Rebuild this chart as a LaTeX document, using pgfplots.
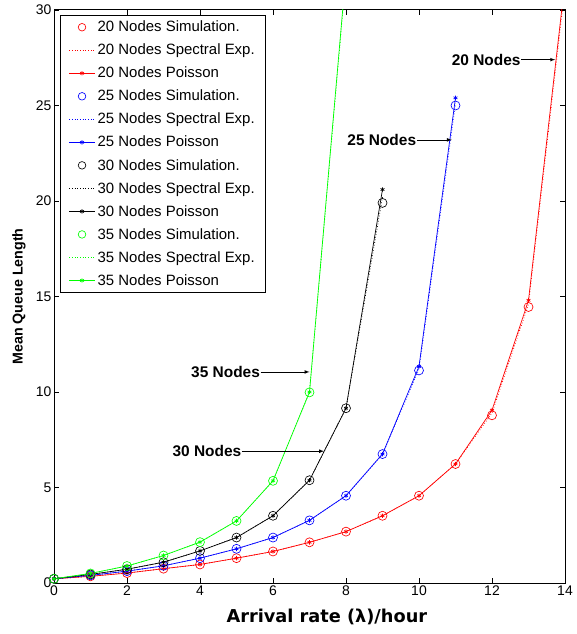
\documentclass[border=0pt]{standalone}
\usepackage{pgfplots}
\pgfplotsset{compat=1.18}
\usepackage{fontspec}
\setmainfont{Liberation Sans}
\newfontfamily\dejavu{DejaVu Sans}
\begin{document}
\begin{tikzpicture}[x=1bp,y=1bp]
\begin{axis}[
  name=ax,
  scale only axis,
  width=511bp, height=573bp,
  xmin=0, xmax=14, ymin=0, ymax=30,
  xtick={0,2,...,14}, ytick={0,5,...,30},
  tick align=inside,
  major tick length=5bp,
  axis line style={line width=1pt},
  every tick/.style={black, line width=0.8pt},
  tick label style={font=\fontsize{14}{16}\selectfont},
  xticklabel style={yshift=1bp},
  yticklabel style={xshift=1bp},
  /pgf/number format/assume math mode=true,
  xlabel={\dejavu\bfseries Arrival rate (λ)/hour},
  xlabel style={font=\fontsize{17.8}{20}\selectfont, at={(axis description cs:0.534,-0.0593)}, anchor=center},
  ylabel={\bfseries Mean Queue Length},
  ylabel style={font=\fontsize{14.3}{16}\selectfont, at={(axis description cs:-0.0685,0.5)}, anchor=center},
  legend style={at={(0.0117,0.991)}, anchor=north west, font=\fontsize{15}{17}\selectfont,
    draw=black, line width=0.8pt, inner xsep=8.5bp, inner ysep=3bp, row sep=5.7bp, legend cell align=left,
    nodes={inner sep=2.5bp}},
  every axis plot/.append style={line width=0.7pt},
  simstyle/.style={only marks, mark=o, mark size=4.5bp, mark options={line width=0.65pt},
    legend image code/.code={\draw[mark size=3.8bp] plot coordinates {(0.45cm,0cm)};}},
  specstyle/.style={dotted, line width=0.8pt, no marks,
    legend image code/.code={\draw[##1] plot coordinates {(0cm,0cm) (0.45cm,0cm) (0.9cm,0cm)};}},
  poisstyle/.style={mark=asterisk, mark size=2.2bp,
    legend image code/.code={\draw[mark repeat=2,mark phase=2,##1] plot coordinates {(0cm,0cm) (0.45cm,0cm) (0.9cm,0cm)};}},
]
% 20 nodes
\addplot[red, simstyle] coordinates {
(0,0.22)(1,0.35)(2,0.52)(3,0.75)(4,0.97)(5,1.30)(6,1.65)(7,2.13)(8,2.69)(9,3.52)(10,4.57)(11,6.23)(12,8.78)(13,14.45)};
\addlegendentry{20 Nodes Simulation.}
\addplot[red, specstyle] coordinates {
(0,0.22)(1,0.35)(2,0.52)(3,0.75)(4,0.97)(5,1.30)(6,1.65)(7,2.13)(8,2.69)(9,3.52)(10,4.57)(11,6.23)(12,8.9)(13,14.6)(14,31.2)};
\addlegendentry{20 Nodes Spectral Exp.}
\addplot[red, poisstyle] coordinates {
(0,0.22)(1,0.35)(2,0.52)(3,0.75)(4,0.97)(5,1.30)(6,1.65)(7,2.13)(8,2.69)(9,3.52)(10,4.57)(11,6.23)(12,9.05)(13,14.8)(14,31.5)};
\addlegendentry{20 Nodes Poisson}
% 25 nodes
\addplot[blue, simstyle] coordinates {
(0,0.22)(1,0.40)(2,0.62)(3,0.90)(4,1.30)(5,1.79)(6,2.38)(7,3.28)(8,4.57)(9,6.75)(10,11.13)(11,25.0)};
\addlegendentry{25 Nodes Simulation.}
\addplot[blue, specstyle] coordinates {
(0,0.22)(1,0.40)(2,0.62)(3,0.90)(4,1.30)(5,1.79)(6,2.38)(7,3.28)(8,4.57)(9,6.75)(10,11.2)(11,25.1)};
\addlegendentry{25 Nodes Spectral Exp.}
\addplot[blue, poisstyle] coordinates {
(0,0.22)(1,0.40)(2,0.62)(3,0.90)(4,1.30)(5,1.79)(6,2.38)(7,3.28)(8,4.57)(9,6.75)(10,11.34)(11,25.4)};
\addlegendentry{25 Nodes Poisson}
% 30 nodes
\addplot[black, simstyle] coordinates {
(0,0.22)(1,0.45)(2,0.72)(3,1.09)(4,1.68)(5,2.38)(6,3.52)(7,5.38)(8,9.15)(9,19.9)};
\addlegendentry{30 Nodes Simulation.}
\addplot[black, specstyle] coordinates {
(0,0.22)(1,0.45)(2,0.72)(3,1.09)(4,1.68)(5,2.38)(6,3.52)(7,5.38)(8,9.15)(9,20.2)};
\addlegendentry{30 Nodes Spectral Exp.}
\addplot[black, poisstyle] coordinates {
(0,0.22)(1,0.45)(2,0.72)(3,1.09)(4,1.68)(5,2.38)(6,3.52)(7,5.38)(8,9.15)(9,20.6)};
\addlegendentry{30 Nodes Poisson}
% 35 nodes
\addplot[green, simstyle] coordinates {
(0,0.22)(1,0.50)(2,0.89)(3,1.44)(4,2.14)(5,3.25)(6,5.35)(7,9.98)};
\addlegendentry{35 Nodes Simulation.}
\addplot[green, specstyle] coordinates {
(0,0.22)(1,0.50)(2,0.89)(3,1.44)(4,2.14)(5,3.25)(6,5.35)(7,10.0)(8,31.8)};
\addlegendentry{35 Nodes Spectral Exp.}
\addplot[green, poisstyle] coordinates {
(0,0.22)(1,0.50)(2,0.89)(3,1.44)(4,2.14)(5,3.25)(6,5.35)(7,10.0)(8,32.0)};
\addlegendentry{35 Nodes Poisson}
% annotations
\draw[-latex, line width=0.7pt] (axis cs:12.8,27.4) -- (axis cs:13.73,27.4);
\node[anchor=east, font=\fontsize{15.5}{17}\selectfont\bfseries, inner sep=0.5bp] at (axis cs:12.8,27.4) {20 Nodes};
\draw[-latex, line width=0.7pt] (axis cs:9.94,23.2) -- (axis cs:10.9,23.2);
\node[anchor=east, font=\fontsize{15.5}{17}\selectfont\bfseries, inner sep=0.5bp] at (axis cs:9.94,23.2) {25 Nodes};
\draw[-latex, line width=0.7pt] (axis cs:5.66,11.05) -- (axis cs:7.0,11.05);
\node[anchor=east, font=\fontsize{15.5}{17}\selectfont\bfseries, inner sep=0.5bp] at (axis cs:5.66,11.05) {35 Nodes};
\draw[-latex, line width=0.7pt] (axis cs:5.15,6.9) -- (axis cs:7.4,6.9);
\node[anchor=east, font=\fontsize{15.5}{17}\selectfont\bfseries, inner sep=0.5bp] at (axis cs:5.15,6.9) {30 Nodes};
\end{axis}
\path ([xshift=-54bp,yshift=-51bp]ax.south west) rectangle ([xshift=6bp,yshift=10bp]ax.north east);
\end{tikzpicture}
\end{document}
